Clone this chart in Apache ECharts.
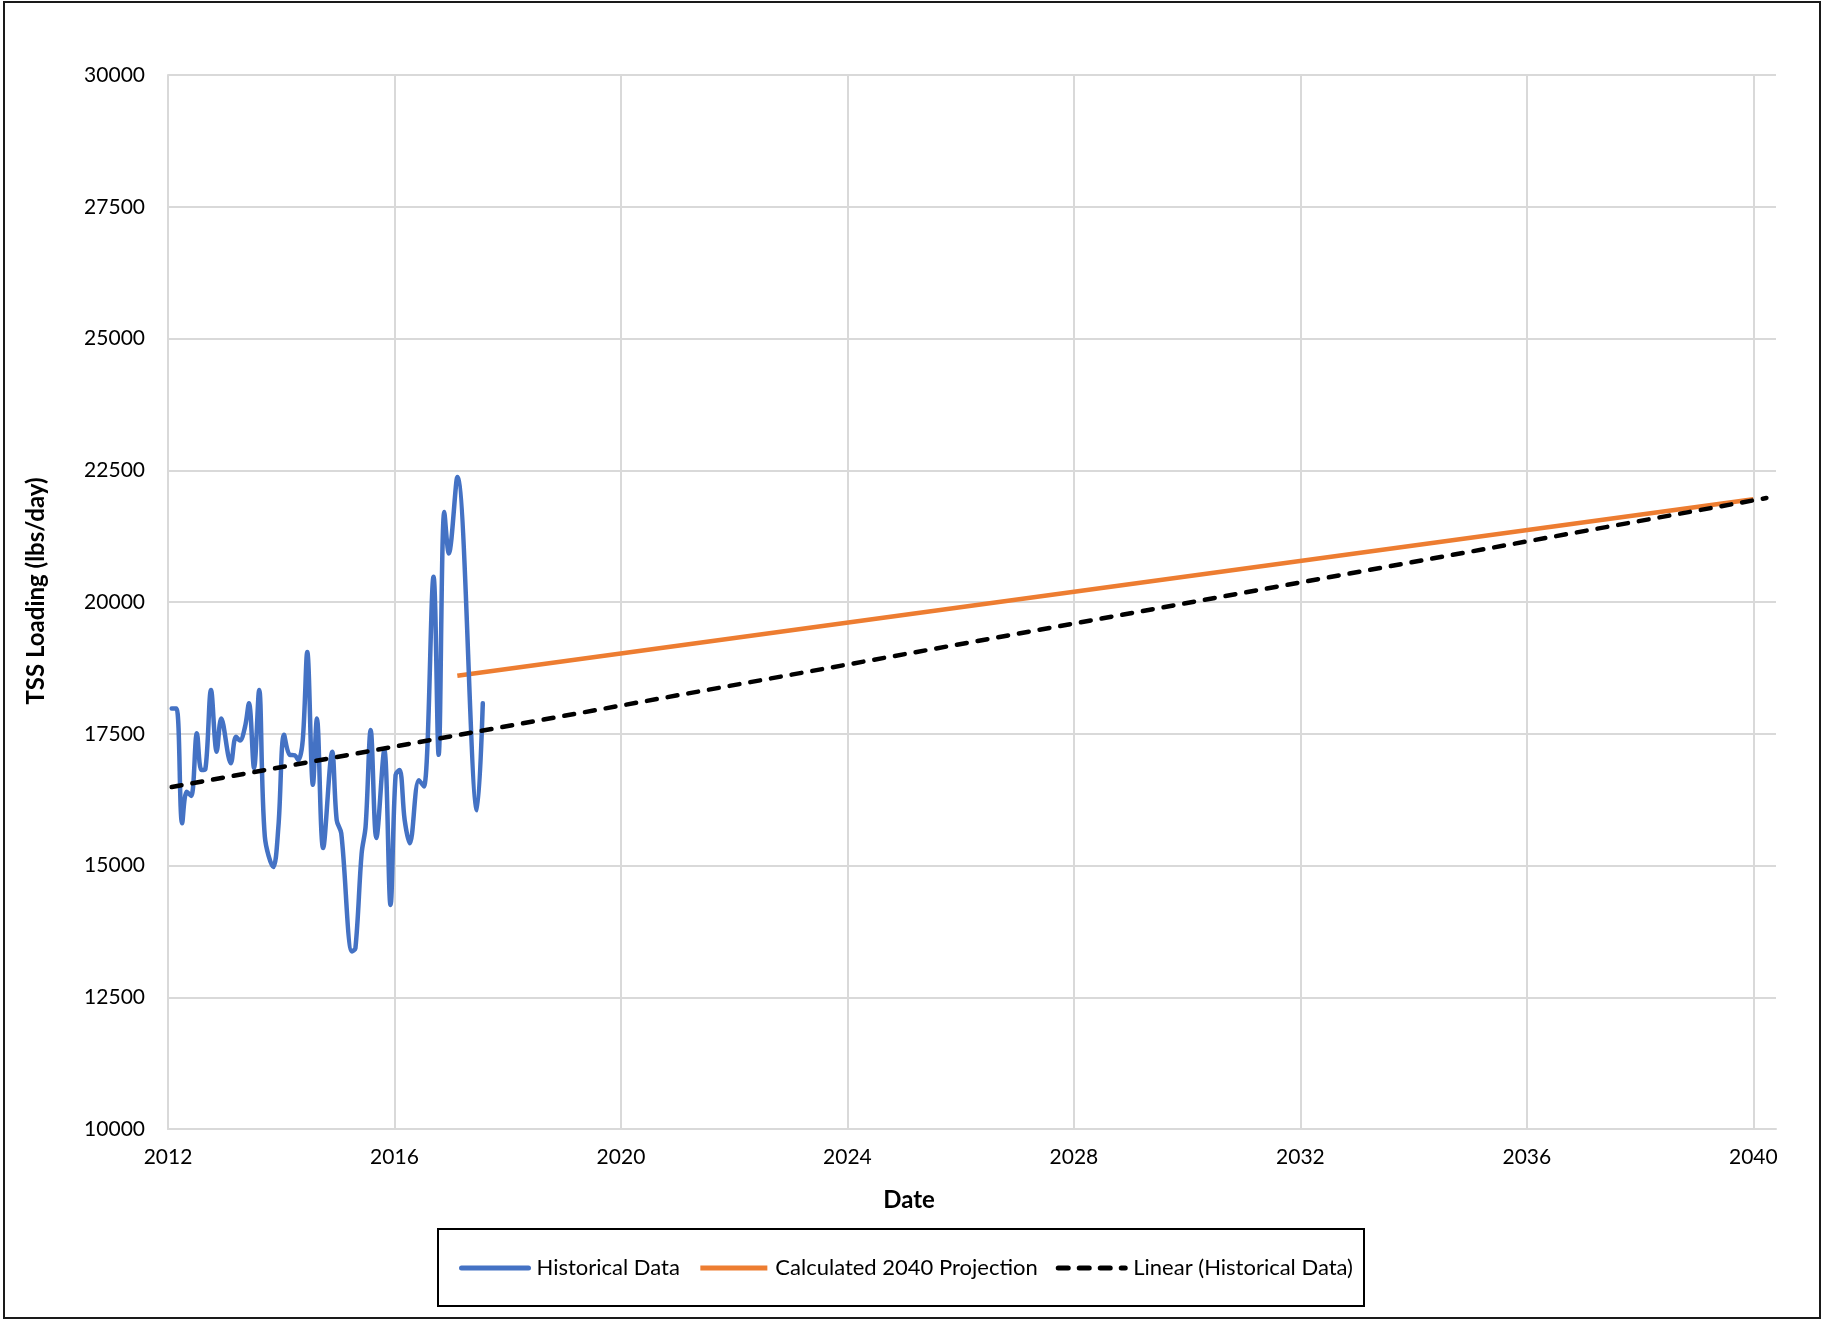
<!DOCTYPE html>
<html>
<head>
<meta charset="utf-8">
<title>TSS Loading</title>
<script src="https://cdn.jsdelivr.net/npm/echarts@6/dist/echarts.min.js"></script>
<style>
  html, body { margin: 0; padding: 0; background: #fff; }
  #chart { width: 1822px; height: 1321px; }
</style>
</head>
<body>
<div id="chart"></div>
<script>
// Historical monthly TSS loading (decimal year, lbs/day)
const historicalYears = [
  2012.065, 2012.15, 2012.25, 2012.33, 2012.41, 2012.51, 2012.59, 2012.66, 2012.76, 2012.86,
  2012.94, 2013.11, 2013.20, 2013.27, 2013.36, 2013.43, 2013.52, 2013.61, 2013.71, 2013.86,
  2013.95, 2014.05, 2014.15, 2014.24, 2014.30, 2014.38, 2014.46, 2014.56, 2014.63, 2014.74,
  2014.90, 2014.98, 2015.06, 2015.25, 2015.31, 2015.42, 2015.49, 2015.58, 2015.68, 2015.82,
  2015.93, 2016.02, 2016.09, 2016.18, 2016.27, 2016.43, 2016.52, 2016.69, 2016.78, 2016.88,
  2016.96, 2017.11, 2017.46, 2017.56
];
const historicalValues = [
  17980, 17980, 15800, 16400, 16320, 17510, 16810, 16830, 18330, 17160,
  17790, 16940, 17445, 17370, 17630, 18080, 16850, 18330, 15550, 14970,
  15740, 17480, 17100, 17090, 17000, 17380, 19050, 16530, 17790, 15330,
  17160, 15860, 15610, 13370, 13430, 15230, 15740, 17570, 15520, 17190,
  14250, 16720, 16810, 15860, 15420, 16620, 16500, 20480, 17100, 21710,
  20920, 22370, 16050, 18080
];

// Calculated 2040 projection (start and end)
const projectionYears = [2017.11, 2040.0];
const projectionValues = [18600, 21950];

// Linear trendline of the historical data, extended forward
const trendYears = [2012.065, 2040.23];
const trendValues = [16490, 21973];

// Axis ticks
const yTicks = [10000, 12500, 15000, 17500, 20000, 22500, 25000, 27500, 30000];
const xTicks = [2012, 2016, 2020, 2024, 2028, 2032, 2036, 2040];

const pair = (xs, ys) => xs.map((x, i) => [x, ys[i]]);

const FONT = 'Lato, "Liberation Sans", sans-serif';
const GRID_COLOR = '#d9d9d9';

const chart = echarts.init(document.getElementById('chart'));

// One colour per vertical split line; the trailing one (axis max) stays hidden
const xSplitColors = xTicks.map(() => GRID_COLOR).concat(['rgba(0,0,0,0)']);

chart.setOption({
  backgroundColor: '#ffffff',
  animation: false,
  textStyle: { fontFamily: FONT },
  grid: { left: 168, right: 46, top: 75, bottom: 192, containLabel: false },
  xAxis: {
    type: 'value',
    min: xTicks[0],
    max: 2040.4,
    interval: 4,
    axisLine: { show: true, lineStyle: { color: GRID_COLOR, width: 2 } },
    axisTick: { show: false },
    axisLabel: {
      showMaxLabel: false,
      margin: 18,
      color: '#000',
      fontSize: 21,
      fontFamily: FONT,
      formatter: v => String(Math.round(v))
    },
    splitLine: { show: true, lineStyle: { color: xSplitColors, width: 2 } }
  },
  yAxis: {
    type: 'value',
    min: yTicks[0],
    max: yTicks[yTicks.length - 1],
    interval: 2500,
    axisLine: { show: true, lineStyle: { color: GRID_COLOR, width: 2 } },
    axisTick: { show: false },
    axisLabel: {
      margin: 23, color: '#000', fontSize: 21, fontFamily: FONT,
      formatter: v => String(Math.round(v))
    },
    splitLine: { show: true, lineStyle: { color: GRID_COLOR, width: 2 } }
  },
  legend: {
    left: 454,
    top: 1252,
    itemWidth: 67,
    itemHeight: 14,
    itemGap: 18,
    itemStyle: { opacity: 0 },
    lineStyle: { width: 5 },
    textStyle: { color: '#000', fontSize: 22, fontFamily: FONT, padding: [0, 0, 0, 3] },
    data: [
      { name: 'Historical Data' },
      { name: 'Calculated 2040 Projection' },
      { name: 'Linear (Historical Data)' }
    ]
  },
  graphic: [
    {
      type: 'rect',
      shape: { x: 4, y: 2, width: 1816, height: 1316 },
      style: { fill: 'none', stroke: '#1a1a1a', lineWidth: 2 },
      silent: true, z: -1
    },
    {
      type: 'rect',
      shape: { x: 438, y: 1229, width: 926, height: 77 },
      style: { fill: 'none', stroke: '#000', lineWidth: 2 },
      silent: true, z: -1
    },
    {
      type: 'text',
      x: 909, y: 1200,
      style: {
        text: 'Date', fill: '#000', font: 'bold 24px ' + FONT,
        textAlign: 'center', textVerticalAlign: 'middle'
      }
    },
    {
      type: 'text',
      x: 36, y: 591,
      rotation: Math.PI / 2,
      style: {
        text: 'TSS Loading (lbs/day)', fill: '#000', font: 'bold 24px ' + FONT,
        textAlign: 'center', textVerticalAlign: 'middle'
      }
    }
  ],
  series: [
    {
      name: 'Historical Data',
      type: 'line',
      data: pair(historicalYears, historicalValues),
      smooth: 0.35,
      symbol: 'none',
      lineStyle: { color: '#4472C4', width: 4.5, cap: 'round', join: 'round' },
      itemStyle: { color: '#4472C4' },
      z: 3
    },
    {
      name: 'Calculated 2040 Projection',
      type: 'line',
      data: pair(projectionYears, projectionValues),
      symbol: 'none',
      lineStyle: { color: '#ED7D31', width: 4.5 },
      itemStyle: { color: '#ED7D31' },
      z: 2
    },
    {
      name: 'Linear (Historical Data)',
      type: 'line',
      data: pair(trendYears, trendValues),
      symbol: 'none',
      lineStyle: { color: '#000', width: 4.5, type: [10, 11], cap: 'round' },
      itemStyle: { color: '#000' },
      z: 4
    }
  ]
});
</script>
</body>
</html>
